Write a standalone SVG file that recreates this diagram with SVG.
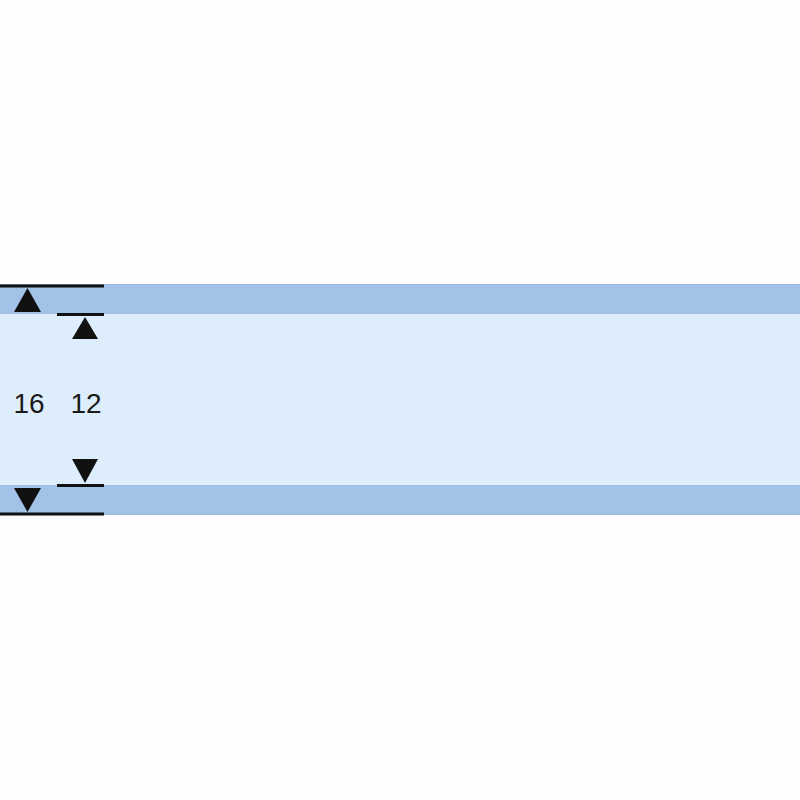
<svg xmlns="http://www.w3.org/2000/svg" width="800" height="800" viewBox="0 0 800 800">
<style>
.band{fill:#a3c2e8}
.inner{fill:#deedfb}
.dim{stroke:#111;stroke-width:3;fill:none}
.arr{fill:#111}
.lbl{font-family:"Liberation Sans",Arial,sans-serif;font-size:28px;fill:#1a1a1a;text-anchor:middle}
</style>
<rect x="0" y="0" width="800" height="800" fill="#fdfdfd"/>
<g id="panel">
<rect class="band" x="0" y="284" width="800" height="30"/>
<rect class="inner" x="0" y="314" width="800" height="171"/>
<rect class="band" x="0" y="485" width="800" height="30"/>
<line x1="0" y1="284.5" x2="800" y2="284.5" stroke="#9ab8dd" stroke-width="1"/>
<line x1="0" y1="514.5" x2="800" y2="514.5" stroke="#9ab8dd" stroke-width="1"/>
</g>
<g id="dimensions">
<g id="dim16">
<line class="dim" x1="0" y1="286" x2="104" y2="286"/>
<line class="dim" x1="0" y1="514" x2="104" y2="514"/>
<polygon class="arr" points="27.5,288 14,312 41,312"/>
<polygon class="arr" points="27.5,512 14,488 41,488"/>
<text class="lbl" x="29" y="413">16</text>
</g>
<g id="dim12">
<line class="dim" x1="57" y1="314.5" x2="104" y2="314.5"/>
<line class="dim" x1="57" y1="485.5" x2="104" y2="485.5"/>
<polygon class="arr" points="85,317 72,339 98,339"/>
<polygon class="arr" points="85,483 72,459 98,459"/>
<text class="lbl" x="86" y="413">12</text>
</g>
</g>
</svg>
